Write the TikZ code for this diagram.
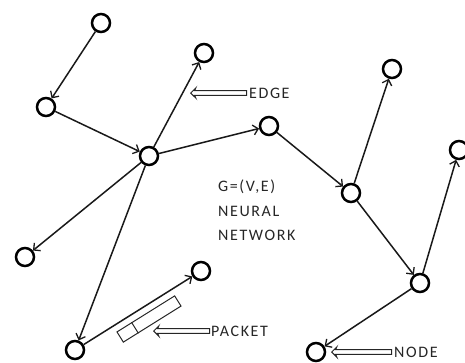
\documentclass[tikz,border=0pt]{standalone}
\usepackage{fontspec}
\newfontfamily\lblfont{Carlito}[LetterSpace=10]
\usetikzlibrary{arrows.meta,shapes.arrows,calc}

\tikzset{
  vertex/.style={circle, draw=black, line width=2.5pt, minimum size=18pt, inner sep=0pt},
  link/.style={draw=black!90, line width=1.5pt, -{Straight Barb[length=5pt,width=10pt,line width=1.3pt]}},
  lbl/.style={anchor=west, inner sep=0pt, text=black!85, font=\lblfont\fontsize{16}{18}\selectfont},
  pointer/.style={single arrow, draw=black!85, line width=1pt, shape border rotate=180,
    inner sep=1.8pt, single arrow head extend=2.8pt, single arrow head indent=1.2pt,
    anchor=tip},
  packetbox/.style={rectangle, draw=black!85, line width=1pt, minimum width=68pt,
    minimum height=12pt, inner sep=0pt, rotate=32}
}

\begin{document}
\begin{tikzpicture}[x=1pt,y=-1pt]
  \useasboundingbox (0,0) rectangle (465,362);

  % vertices
  \node[vertex] (a) at (101,23) {};
  \node[vertex] (b) at (46,107) {};
  \node[vertex] (c) at (149,156) {};
  \node[vertex] (d) at (204,53) {};
  \node[vertex] (e) at (269,126) {};
  \node[vertex] (f) at (392,69) {};
  \node[vertex] (g) at (459,150) {};
  \node[vertex] (h) at (351,193) {};
  \node[vertex] (i) at (420,283) {};
  \node[vertex] (j) at (316,352) {};
  \node[vertex] (k) at (25,257) {};
  \node[vertex] (l) at (75,350) {};
  \node[vertex] (m) at (201,271) {};

  % directed edges
  \draw[link] (a) -- (b);
  \draw[link] (b) -- (c);
  \draw[link] (c) -- (d);
  \draw[link] (c) -- (e);
  \draw[link] (e) -- (h);
  \draw[link] (h) -- (f);
  \draw[link] (h) -- (i);
  \draw[link] (i) -- (g);
  \draw[link] (i) -- (j);
  \draw[link] (c) -- (k);
  \draw[link] (c) -- (l);
  \draw[link] (l) -- (m);

  % packet travelling along the edge
  \node[packetbox] (pk) at (149,319) {};
  \draw[draw=black!85, line width=1pt]
    ($(pk.north west)!0.26!(pk.north east)$) -- ($(pk.south west)!0.26!(pk.south east)$);

  % labels
  \node[lbl] (edgelbl) at (249,93) {EDGE};
  \node[lbl] (gve) at (218,187) {G=(V,E)};
  \node[lbl] (neural) at (218,211) {NEURAL};
  \node[lbl] (network) at (218,235) {NETWORK};
  \node[lbl] (packetlbl) at (211,331) {PACKET};
  \node[lbl] (nodelbl) at (394,352) {NODE};

  % hollow pointers from labels
  \node[pointer, minimum height=56pt] (pe) at (190,93) {};
  \node[pointer, minimum height=56pt] (pp) at (153,331) {};
  \node[pointer, minimum height=60pt] (pn) at (331,352) {};
\end{tikzpicture}
\end{document}
